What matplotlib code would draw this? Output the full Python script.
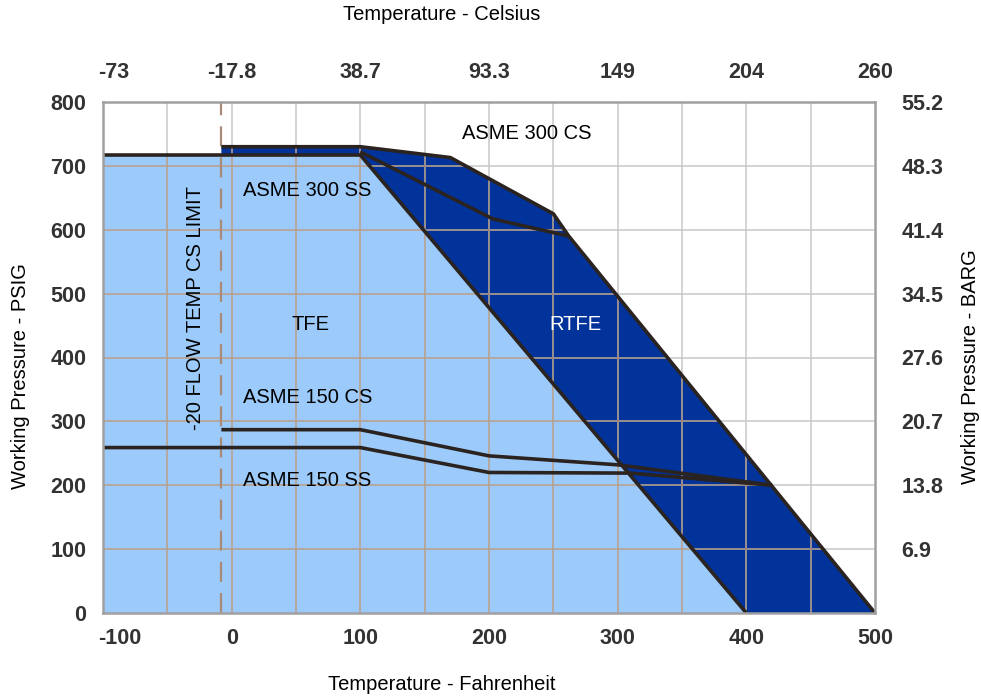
import matplotlib
matplotlib.use('Agg')
import matplotlib.pyplot as plt
from matplotlib.patches import Polygon
from matplotlib.transforms import ScaledTranslation

plt.rcParams['font.family'] = ['Liberation Sans', 'DejaVu Sans']

# ---------------- data ----------------
fahrenheit_ticks = [-100, 0, 100, 200, 300, 400, 500]
celsius_labels = ['-73', '-17.8', '38.7', '93.3', '149', '204', '260']
psig_ticks = [0, 100, 200, 300, 400, 500, 600, 700, 800]
barg_labels = ['', '6.9', '13.8', '20.7', '27.6', '34.5', '41.4', '48.3', '55.2']
grid_x = [-50, 0, 50, 100, 150, 200, 250, 300, 350, 400, 450]
grid_y = [100, 200, 300, 400, 500, 600, 700]

# ASME 300 SS / TFE boundary
ss300_t = [-100, 100, 400]
ss300_p = [717, 717, 0]
# ASME 300 CS / RTFE boundary
cs300_t = [-8, 100, 170, 250, 262, 500]
cs300_p = [730, 730, 713, 625, 590, 0]
# ASME 300 SS rating inside the RTFE band
ss300_mid_t = [100, 203, 262]
ss300_mid_p = [722, 617, 590]
# ASME 150 CS
cs150_t = [-8, 100, 200, 300, 420]
cs150_p = [287, 287, 246, 232, 200]
# ASME 150 SS
ss150_t = [-100, 100, 200, 310, 420]
ss150_p = [259, 259, 220, 219, 200]
# -20 F flow temperature CS limit (as drawn)
cs_limit_t = -8

LIGHT = '#9ccbfb'
DARK = '#02339a'
LINE = '#2a2320'
GRID = '#c8c8c8'
GRID_ON_LIGHT = '#b39f92'
GRID_ON_DARK = '#948583'

fig = plt.figure(figsize=(9.81, 7.0), dpi=100)
ax = fig.add_axes([103 / 981, 1 - 613 / 700, (875 - 103) / 981, (613 - 102) / 700])
ax.set_xlim(fahrenheit_ticks[0], fahrenheit_ticks[-1])
ax.set_ylim(psig_ticks[0], psig_ticks[-1])

# fills
light_poly = Polygon(list(zip(ss300_t, ss300_p)) + [(ss300_t[0], 0)],
                     closed=True, facecolor=LIGHT, edgecolor='none', zorder=1)
dark_poly = Polygon(list(zip(cs300_t, cs300_p)) +
                    [(ss300_t[2], ss300_p[2]), (ss300_t[1], ss300_p[1]), (cs_limit_t, ss300_p[0])],
                    closed=True, facecolor=DARK, edgecolor='none', zorder=1)
ax.add_patch(light_poly)
ax.add_patch(dark_poly)

# grid: gray on white, tinted where over fills
for gx in grid_x:
    ax.axvline(gx, color=GRID, lw=1.1, zorder=2)
    for poly, c in ((light_poly, GRID_ON_LIGHT), (dark_poly, GRID_ON_DARK)):
        l = ax.axvline(gx, color=c, lw=1.1, zorder=2.1)
        l.set_clip_path(poly)
for gy in grid_y:
    ax.axhline(gy, color=GRID, lw=1.1, zorder=2)
    for poly, c in ((light_poly, GRID_ON_LIGHT), (dark_poly, GRID_ON_DARK)):
        l = ax.axhline(gy, color=c, lw=1.1, zorder=2.1)
        l.set_clip_path(poly)

# CS limit dashed line
ax.axvline(cs_limit_t, color='#a88a78', lw=1.6, dashes=(9, 5), zorder=3)

# rating lines
for t, p in [(ss300_t, ss300_p), (cs300_t, cs300_p), (ss300_mid_t, ss300_mid_p),
             (cs150_t, cs150_p), (ss150_t, ss150_p)]:
    ax.plot(t, p, color=LINE, lw=2.6, solid_joinstyle='round', solid_capstyle='butt', zorder=4)

# annotations
fs = 14.5
ax.text(229, 751, 'ASME 300 CS', fontsize=fs, ha='center', va='center', zorder=5)
ax.text(59, 662, 'ASME 300 SS', fontsize=fs, ha='center', va='center', zorder=5)
ax.text(61, 451, 'TFE', fontsize=fs, ha='center', va='center', zorder=5)
ax.text(267, 451, 'RTFE', fontsize=fs, ha='center', va='center', color='white', zorder=5)
ax.text(59, 338, 'ASME 150 CS', fontsize=fs, ha='center', va='center', zorder=5)
ax.text(59, 207, 'ASME 150 SS', fontsize=fs, ha='center', va='center', zorder=5)
ax.text(-28, 477, '-20 FLOW TEMP CS LIMIT', fontsize=fs, rotation=90,
        ha='center', va='center', zorder=5)

# frame
for sp in ax.spines.values():
    sp.set_color('#a0a0a0')
    sp.set_linewidth(1.8)
    sp.set_zorder(6)

TICK_FS = 15.5
TICK_COLOR = '#333333'
ax.set_xticks(fahrenheit_ticks)
ax.set_xticklabels([str(v) for v in fahrenheit_ticks], fontweight='bold')
ax.set_yticks(psig_ticks)
ax.set_yticklabels([str(v) for v in psig_ticks], fontweight='bold')
ax.tick_params(axis='x', length=0, labelsize=TICK_FS, labelcolor=TICK_COLOR, pad=11)
ax.tick_params(axis='y', length=0, labelsize=TICK_FS, labelcolor=TICK_COLOR, pad=12)

axt = ax.twiny()
axt.set_xlim(ax.get_xlim())
axt.set_xticks(fahrenheit_ticks)
axt.set_xticklabels(celsius_labels, fontweight='bold')
axt.tick_params(axis='x', length=0, labelsize=TICK_FS, labelcolor=TICK_COLOR, pad=14)

axr = ax.twinx()
axr.set_ylim(ax.get_ylim())
axr.set_yticks(psig_ticks)
axr.set_yticklabels(barg_labels, fontweight='bold')
axr.tick_params(axis='y', length=0, labelsize=TICK_FS, labelcolor=TICK_COLOR, pad=19)

for a in (axt, axr):
    for sp in a.spines.values():
        sp.set_visible(False)

# shift the first F and C labels right as in the reference
ax.get_xticklabels()[0].set_transform(
    ax.get_xticklabels()[0].get_transform() + ScaledTranslation(17 / 100, 0, fig.dpi_scale_trans))
axt.get_xticklabels()[0].set_transform(
    axt.get_xticklabels()[0].get_transform() + ScaledTranslation(11 / 100, 0, fig.dpi_scale_trans))

# axis titles
fig.text(441.5 / 981, 1 - 685 / 700, 'Temperature - Fahrenheit', fontsize=fs, ha='center', va='center')
fig.text(441.5 / 981, 1 - 15 / 700, 'Temperature - Celsius', fontsize=fs, ha='center', va='center')
fig.text(21 / 981, 1 - 376 / 700, 'Working Pressure - PSIG', fontsize=fs, rotation=90, ha='center', va='center')
fig.text(971 / 981, 1 - 367 / 700, 'Working Pressure - BARG', fontsize=fs, rotation=90, ha='center', va='center')

fig.savefig('out.png', dpi=100)
